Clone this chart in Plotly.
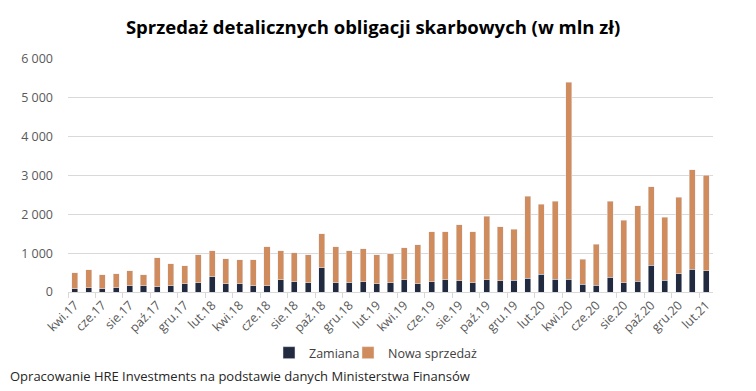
import plotly.graph_objects as go

months = ["kwi.17","maj.17","cze.17","lip.17","sie.17","wrz.17","paź.17","lis.17","gru.17",
          "sty.18","lut.18","mar.18","kwi.18","maj.18","cze.18","lip.18","sie.18","wrz.18","paź.18","lis.18","gru.18",
          "sty.19","lut.19","mar.19","kwi.19","maj.19","cze.19","lip.19","sie.19","wrz.19","paź.19","lis.19","gru.19",
          "sty.20","lut.20","mar.20","kwi.20","maj.20","cze.20","lip.20","sie.20","wrz.20","paź.20","lis.20","gru.20",
          "sty.21","lut.21"]

zamiana = [85,111,85,111,162,162,137,162,214,239,393,214,214,162,162,316,
           265,239,624,239,239,265,214,239,316,214,265,316,291,239,316,291,
           309,360,463,334,334,206,180,386,232,283,695,309,464,592,541]

total = [496,573,444,470,547,444,880,726,675,957,1060,855,829,829,1162,1060,
         1009,957,1496,1162,1060,1111,957,983,1137,1214,1547,1547,1726,1547,1957,1675,
         1621,2470,2264,2341,5403,849,1235,2341,1854,2215,2704,1931,2446,3142,3013]

nowa = [t - z for t, z in zip(total, zamiana)]
xs = list(range(len(months)))
tick_idx = xs[::2]
tick_txt = [months[i] for i in tick_idx]

fig = go.Figure()
fig.add_bar(x=xs, y=zamiana, name="Zamiana", marker_color="#212a3e", width=0.44, legend="legend")
fig.add_bar(x=xs, y=nowa, name="Nowa sprzedaż", marker_color="#d18c5d", width=0.44, legend="legend2")

leg_common = dict(orientation="h", y=-0.262, yanchor="middle", xanchor="left",
                  font=dict(size=12.5, color="#404040"), itemwidth=30,
                  bgcolor="rgba(0,0,0,0)")

fig.update_layout(
    barmode="stack",
    width=756, height=391,
    margin=dict(l=68, r=43, t=59, b=99),
    paper_bgcolor="white", plot_bgcolor="white",
    separators=", ",
    font=dict(family="Open Sans", color="#595959", size=12),
    title=dict(text="<b>Sprzedaż detalicznych obligacji skarbowych (w mln zł)</b>",
               x=0.4935, xanchor="center", y=0.93, yanchor="middle",
               font=dict(size=18.5, color="#000000", family="Open Sans")),
    showlegend=True,
    legend=dict(x=(290 - 21 - 68) / 645, **leg_common),
    legend2=dict(x=(369 - 21 - 68) / 645, **leg_common),
    xaxis=dict(range=[-0.5, len(months) - 0.5], tickvals=tick_idx, ticktext=tick_txt,
               tickangle=-45, ticks="", showgrid=False, zeroline=False,
               showline=True, linecolor="#d9d9d9", linewidth=1,
               tickfont=dict(size=12.5, color="#595959"),
               minor=dict(tick0=-0.5, dtick=2, ticks="outside", ticklen=5,
                          tickcolor="#d9d9d9", showgrid=False)),
    yaxis=dict(range=[0, 6000], dtick=1000, tickformat=",.0f", showgrid=True,
               gridcolor="#d9d9d9", gridwidth=1, zeroline=False,
               tickfont=dict(size=12.5, color="#595959"), ticks="", ticklabelstandoff=14),
    annotations=[dict(text="Opracowanie HRE Investments na podstawie danych Ministerstwa Finansów",
                      xref="paper", yref="paper", x=-68/645, xanchor="left",
                      y=(292-376)/232.5, yanchor="middle", showarrow=False,
                      xshift=8, font=dict(size=13, color="#262626"))],
)

fig.write_html("out.html", config={"displayModeBar": False},
               post_script="document.body.style.margin='0';")
